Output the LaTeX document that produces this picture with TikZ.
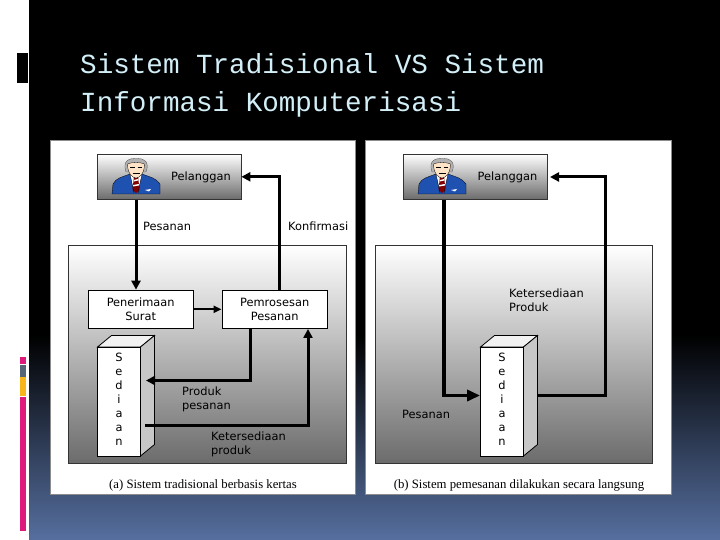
\documentclass[tikz,border=0pt]{standalone}
\usepackage{fontspec}
\setmainfont{DejaVu Sans}
\newfontfamily\titlefont{Liberation Mono}
\newfontfamily\capfont{Liberation Serif}
\usetikzlibrary{arrows.meta}
\definecolor{ttl}{HTML}{D2EEF7}
\definecolor{pinkb}{HTML}{DE1A7C}
\definecolor{grayb}{HTML}{566676}
\definecolor{yellb}{HTML}{F9B51C}
\definecolor{bgblue}{HTML}{566F9F}
\definecolor{suit}{HTML}{1F52B0}
\tikzset{
  x=1pt,y=-1pt,
  panelbox/.style={fill=white,draw=black!45,line width=.6pt},
  grad/.style={draw=black!80,line width=.8pt,top color=white,bottom color=black!58},
  procbox/.style={draw=black,line width=.8pt,fill=white,minimum width=105.5pt,minimum height=38.5pt,inner sep=0pt,align=center,font=\fontsize{11.4}{14}\selectfont},
  lab/.style={anchor=west,inner sep=0pt,align=left,font=\fontsize{11.4}{14}\selectfont},
  captext/.style={inner sep=0pt,font=\capfont\fontsize{12.75}{14}\selectfont},
  ttlnode/.style={anchor=base west,inner sep=0pt,text=ttl,font=\titlefont\fontsize{27.6}{30}\selectfont},
  frontface/.style={draw=black,line width=.8pt,fill=white,minimum width=43pt,minimum height=109pt,inner sep=0pt},
  letters/.style={inner sep=0pt,align=center,font=\fontsize{11.4}{14}\selectfont},
  heavy/.style={line width=3pt,draw=black,-{Triangle[length=9pt,width=9pt]}},
  medium/.style={line width=2pt,draw=black,-{Triangle[length=8pt,width=7pt]}},
  bighead/.style={line width=3.4pt,draw=black,-{Triangle[length=13pt,width=11pt]}},
  man/.pic={
    \fill[suit,draw=black,line width=.3pt] (-24,0) -- (-23,-10) .. controls (-20,-16) and (-14,-17) .. (-6,-20) -- (6,-20) .. controls (14,-17) and (20,-16) .. (24,-10) -- (24,0) -- cycle;
    \fill[white] (-6,-20) -- (6,-20) -- (2,-3) -- (-2,-3) -- cycle;
    \fill[red!50!black] (-2,-18) -- (2,-18) -- (3.5,-4) -- (0,-1) -- (-3.5,-4) -- cycle;
    \fill[white] (-2,-14) -- (2,-15) -- (2.4,-13.5) -- (-2.4,-12.5) -- cycle (-2.8,-9) -- (2.8,-10) -- (3,-8.5) -- (-3,-7.5) -- cycle;
    \draw[black,line width=.3pt] (-6,-20) -- (-2,-1) (6,-20) -- (2,-1);
    \fill[white] (9,-4) -- (15,-5) -- (13,-2.5) -- cycle;
    \fill[black!30,draw=black!70,line width=.3pt] (-10,-22) .. controls (-14,-34) and (-6,-36) .. (1,-35.5) .. controls (8,-36) and (14,-32) .. (10,-22) -- cycle;
    \fill[orange!22!white,draw=black,line width=.3pt] (-8.5,-30) .. controls (-8.5,-20) and (-3,-16) .. (0,-16) .. controls (3,-16) and (8.5,-20) .. (8.5,-30) .. controls (4,-32) and (-4,-32) .. (-8.5,-30) -- cycle;
    \draw[black,line width=.7pt] (-6,-27) -- (-1.5,-27) (1.5,-27) -- (6,-27) (-3.5,-21) -- (3.5,-21);
  }
}
\newcommand{\cuboid}[2]{% name, front centre x
  \fill[black!5,draw=black,line width=.8pt] (#2-21.5,347) -- (#2-7.5,335.5) -- (#2+35.5,335.5) -- (#2+21.5,347) -- cycle;
  \fill[black!22,draw=black,line width=.8pt] (#2+21.5,347) -- (#2+35.5,335.5) -- (#2+35.5,444.5) -- (#2+21.5,456) -- cycle;
  \node[frontface] (#1) at (#2,401.5) {};
  \node[letters] (#1t) at (#2,399.5) {S\\e\\d\\i\\a\\a\\n};
}
\begin{document}
\begin{tikzpicture}
\useasboundingbox (0,0) rectangle (720,540);
\fill[white] (0,0) rectangle (720,540);
\fill[black] (29,0) rectangle (720,335);
\shade[top color=black,bottom color=bgblue] (29,335) rectangle (720,540);
% side decoration
\fill[black] (17,53) rectangle (28,83);
\fill[pinkb] (20,357) rectangle (26,364);
\fill[grayb] (20,365) rectangle (26,377);
\fill[yellb] (20,377) rectangle (26,396);
\fill[pinkb] (20,397) rectangle (26,531);
% title
\node[ttlnode] (t1) at (80,74) {Sistem Tradisional VS Sistem};
\node[ttlnode] (t2) at (80,112) {Informasi Komputerisasi};
% panels
\path[panelbox] (50,140) rectangle (355,494);
\path[panelbox] (365.5,140) rectangle (671.5,494);
% --- left
\path[grad] (68.5,245.5) rectangle (346.5,463.5);
\node[grad,minimum width=144pt,minimum height=45.5pt,inner sep=0pt] (pelL) at (169,176.8) {};
\pic at (136,194) {man};
\node[lab] (pelLt) at (171,177.5) {Pelanggan};
\node[procbox] (pen) at (140.7,309.3) {Penerimaan\\Surat};
\node[procbox] (pem) at (274.7,309.3) {Pemrosesan\\Pesanan};
\cuboid{sedL}{119}
\coordinate (xa) at (136,0);
\coordinate (xb) at (279,0);
\coordinate (xc) at (250,0);
\coordinate (xd) at (308,0);
\coordinate (pa) at (146,380.5);
\coordinate (ka) at (145,425);
\draw[heavy] (pelL.south -| xa) -- (pen.north -| xa);
\draw[heavy] (pem.north -| xb) |- (pelL.east);
\draw[medium] (pen.east) -- (pem.west);
\draw[heavy] (pem.south -| xc) |- (pa);
\draw[heavy] (ka) -| (pem.south -| xd);
\node[lab] (l1) at (143,226) {Pesanan};
\node[lab] (l2) at (288,226) {Konfirmasi};
\node[lab] (l3) at (182,399) {Produk\\pesanan};
\node[lab] (l4) at (211,444) {Ketersediaan\\produk};
\node[captext] (capa) at (203,485) {(a) Sistem tradisional berbasis kertas};
% --- right
\path[grad] (375.5,245.5) rectangle (652.5,463.5);
\node[grad,minimum width=144pt,minimum height=45.5pt,inner sep=0pt] (pelR) at (475.5,176.8) {};
\pic at (442,194) {man};
\node[lab] (pelRt) at (477.5,177.5) {Pelanggan};
\cuboid{sedR}{502}
\coordinate (xe) at (444,0);
\coordinate (ya) at (0,395.5);
\coordinate (sr) at (538,395.5);
\coordinate (xf) at (605,0);
\coordinate (pr) at (550,177);
\draw[bighead] (pelR.south -| xe) |- (sedR.west |- ya);
\draw[heavy] (sr) -| (xf |- pr) -- (pr);
\node[lab] (l5) at (509,300) {Ketersediaan\\Produk};
\node[lab] (l6) at (402,414) {Pesanan};
\node[captext] (capb) at (519,485) {(b) Sistem pemesanan dilakukan secara langsung};
\end{tikzpicture}
\end{document}
